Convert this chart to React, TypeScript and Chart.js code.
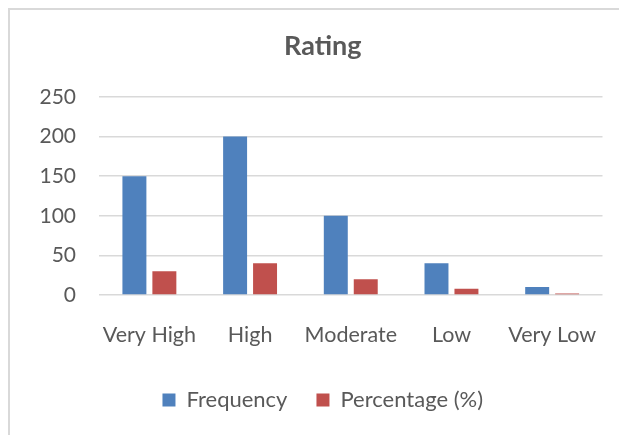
import React, { useEffect, useRef } from "react";
import { Chart, registerables } from "chart.js";

Chart.register(...registerables);

const categories = ["Very High", "High", "Moderate", "Low", "Very Low"];
const frequency = [150, 200, 100, 40, 10];
const percentage = [30, 40, 20, 8, 2];
const seriesNames = ["Frequency", "Percentage (%)"];
const yMax = 250;
const yStep = 50;

const FONT = "Lato, 'Open Sans', sans-serif";
const TEXT = "#595959";

export default function App() {
  const ref = useRef<HTMLCanvasElement | null>(null);

  useEffect(() => {
    document.body.style.overflow = "hidden";
    if (!ref.current) return;
    const chart = new Chart(ref.current, {
      type: "bar",
      data: {
        labels: categories,
        datasets: [
          {
            label: seriesNames[0],
            data: frequency,
            backgroundColor: "#4f81bd",
            categoryPercentage: 0.595,
            barPercentage: 0.8,
          },
          {
            label: seriesNames[1],
            data: percentage,
            backgroundColor: "#c0504d",
            categoryPercentage: 0.595,
            barPercentage: 0.8,
          },
        ],
      },
      options: {
        animation: false,
        responsive: false,
        maintainAspectRatio: false,
        layout: { padding: { left: 6.5, right: 0, top: 0, bottom: 14 } },
        plugins: {
          title: {
            display: true,
            text: "Rating",
            color: TEXT,
            font: { family: FONT, size: 27, weight: "bold" },
            padding: { top: 20, bottom: 34.6 },
          },
          legend: {
            position: "bottom",
            labels: {
              color: TEXT,
              font: { family: FONT, size: 22 },
              boxWidth: 13,
              boxHeight: 13,
              padding: 29,
            },
          },
          tooltip: { enabled: false },
        },
        scales: {
          x: {
            grid: { display: false, tickLength: 15 },
            border: { display: false },
            ticks: {
              color: TEXT,
              font: { family: FONT, size: 21.5 },
              padding: 12.1,
              maxRotation: 0,
            },
          },
          y: {
            min: 0,
            max: yMax,
            grid: { color: "#d9d9d9", lineWidth: 1.5, drawTicks: false },
            border: { display: false },
            ticks: {
              stepSize: yStep,
              color: TEXT,
              font: { family: FONT, size: 21 },
              padding: 23,
            },
          },
          ySpacer: {
            type: "linear",
            position: "right",
            grid: { display: false, drawTicks: false },
            border: { display: false },
            ticks: { display: false },
            afterFit: (scale: any) => {
              scale.width = 26.5;
            },
          },
        },
      },
    });
    return () => chart.destroy();
  }, []);

  return (
    <div
      style={{
        position: "absolute",
        left: 8,
        top: 8,
        borderTop: "2px solid #d9d9d9",
        borderLeft: "2px solid #d9d9d9",
        width: 619.5,
        height: 425,
        background: "#fff",
      }}
    >
      <canvas ref={ref} width={619.5} height={425} style={{ display: "block" }} />
    </div>
  );
}
